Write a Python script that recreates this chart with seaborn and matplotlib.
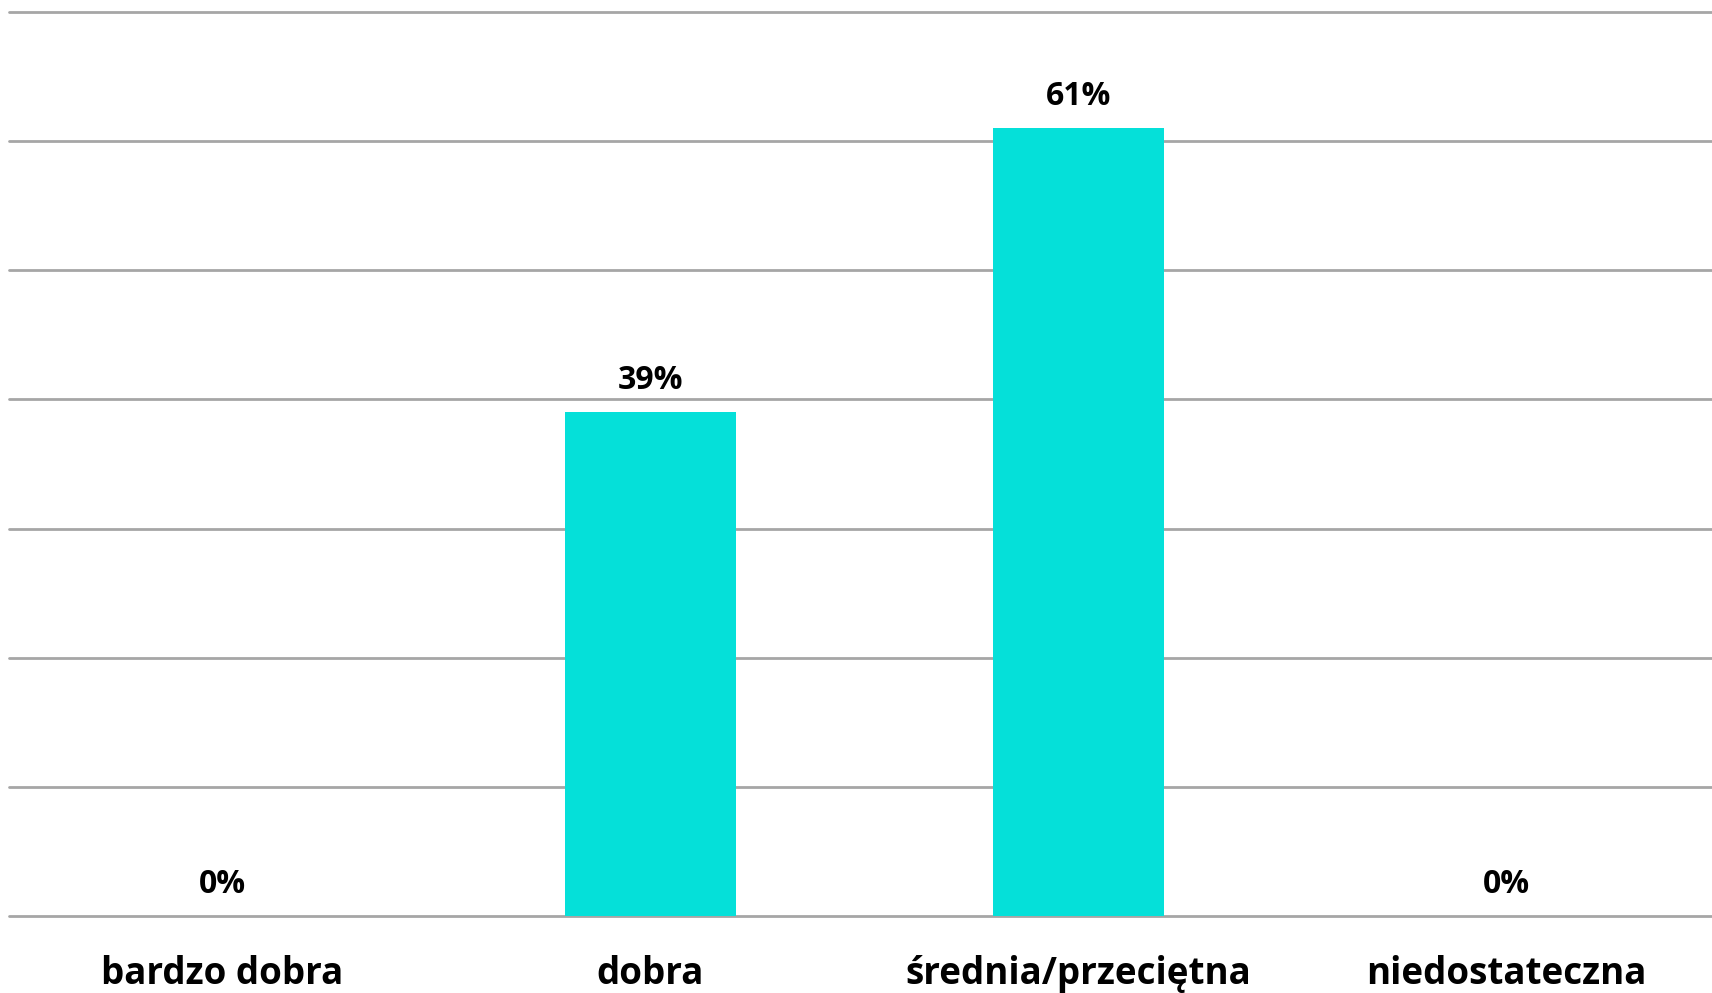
import numpy as np
import pandas as pd
import matplotlib
matplotlib.use('Agg')
import matplotlib.pyplot as plt
import seaborn as sns

# data
categories = ['bardzo dobra', 'dobra', 'średnia/przeciętna', 'niedostateczna']
values = [0, 39, 61, 0]
value_labels = ['0%', '39%', '61%', '0%']

df = pd.DataFrame({'ocena': categories, 'procent': values})

sns.set_theme(style='white')
plt.rcParams['font.family'] = ['Open Sans', 'DejaVu Sans']

fig = plt.figure(figsize=(17.12, 9.93), dpi=100)
ax = fig.add_axes([0.005, 0.0774, 1.0, 0.9106])

sns.barplot(data=df, x='ocena', y='procent', color='#05E0D9', saturation=1,
            width=0.4, ax=ax, zorder=3, edgecolor='none', linewidth=0)

ax.set_ylim(0, 70)
ax.set_xlim(-0.5, 3.5)
ax.set_yticks(np.arange(0, 71, 10))
ax.yaxis.grid(True, color='#A6A6A6', linewidth=2)
ax.set_axisbelow(True)
for gl in ax.get_ygridlines():
    gl.set_clip_on(False)
ax.tick_params(axis='y', left=False, labelleft=False)
ax.tick_params(axis='x', bottom=False, pad=22)
for s in ax.spines.values():
    s.set_visible(False)

ax.set_xlabel('')
ax.set_ylabel('')
for lbl in ax.get_xticklabels():
    lbl.set_fontsize(26.5)
    lbl.set_fontweight('bold')
    lbl.set_color('black')

for i, (v, t) in enumerate(zip(values, value_labels)):
    ax.annotate(t, (i, v), xytext=(0, 11), textcoords='offset points',
                ha='center', va='bottom', fontsize=23, fontweight='bold',
                color='black')

fig.savefig('out.png', dpi=100)
